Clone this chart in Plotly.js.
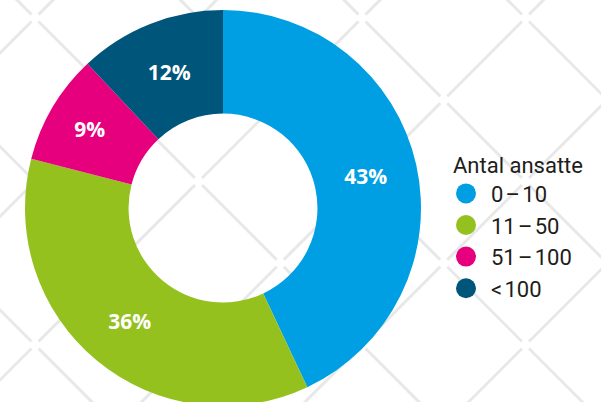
<!DOCTYPE html>
<html><head><meta charset="utf-8">
<script src="https://cdn.plot.ly/plotly-3.0.1.min.js"></script>
<style>html,body{margin:0;padding:0;overflow:hidden;background:#fff}#chart{width:601px;height:420px}</style>
</head><body><div id="chart"></div>
<script>
// ---- data ----
const categories = ['0\u200a\u2013\u200a10', '11\u200a\u2013\u200a50', '51\u200a\u2013\u200a100', '<\u200a100'];
const shares = [43, 36, 9, 12];
const colors = ['#009fe3', '#95c11f', '#e6007e', '#00567a'];
const legendTitle = 'Antal ansatte';

// ---- decorative diamond lattice background (pixel based, converted to paper) ----
const W = 601, H = 420;
const period = 163.5, offA = 53, offB = 17, gap = 5, lineCol = '#e8e8e8';
const shapes = [];
const toX = px => px / W, toY = py => 1 - py / H;
const As = [], Bs = [];
for (let k = -2; k <= 8; k++) { As.push(offA + k * period); }
for (let k = -4; k <= 5; k++) { Bs.push(offB + k * period); }
const d = gap / Math.SQRT2;
As.forEach(cA => {
  for (let i = 0; i < Bs.length - 1; i++) {
    const x1 = (cA + Bs[i]) / 2, y1 = (cA - Bs[i]) / 2;
    const x2 = (cA + Bs[i + 1]) / 2, y2 = (cA - Bs[i + 1]) / 2;
    shapes.push({type: 'line', xref: 'paper', yref: 'paper', layer: 'below',
      x0: toX(x1 + d), y0: toY(y1 - d), x1: toX(x2 - d), y1: toY(y2 + d),
      line: {color: lineCol, width: 3}});
  }
});
Bs.forEach(cB => {
  for (let i = 0; i < As.length - 1; i++) {
    const x1 = (As[i] + cB) / 2, y1 = (As[i] - cB) / 2;
    const x2 = (As[i + 1] + cB) / 2, y2 = (As[i + 1] - cB) / 2;
    shapes.push({type: 'line', xref: 'paper', yref: 'paper', layer: 'below',
      x0: toX(x1 + d), y0: toY(y1 + d), x1: toX(x2 - d), y1: toY(y2 - d),
      line: {color: lineCol, width: 3}});
  }
});

const pie = {
  type: 'pie', values: shares, labels: categories, sort: false,
  direction: 'clockwise', rotation: 0, hole: 0.477,
  marker: {colors: colors, line: {width: 0}},
  textinfo: 'percent', textposition: 'inside', insidetextorientation: 'horizontal',
  textfont: {family: 'Open Sans, sans-serif', size: 21, color: '#ffffff', weight: 'bold'},
  domain: {x: [25 / W, 421 / W], y: [1 - 406 / H, 1 - 10 / H]},
  showlegend: false, hoverinfo: 'none'
};
const legendTraces = categories.map((c, i) => ({
  type: 'scatter', mode: 'markers', x: [null], y: [null], name: c,
  legendgroup: 'g' + i,
  marker: {color: colors[i], size: 16, symbol: 'circle'}, hoverinfo: 'none'
}));

const legendFont = {family: 'Roboto, sans-serif', size: 22, color: '#1d1d1b'};
const layout = {
  width: W, height: H, margin: {l: 0, r: 0, t: 0, b: 0},
  paper_bgcolor: '#ffffff', plot_bgcolor: 'rgba(0,0,0,0)',
  xaxis: {visible: false}, yaxis: {visible: false},
  showlegend: true,
  legend: {
    x: 451 / W, xanchor: 'left', y: 1 - 144 / H, yanchor: 'top',
    bgcolor: 'rgba(0,0,0,0)', traceorder: 'grouped', tracegroupgap: 0,
    title: {text: legendTitle, font: legendFont},
    font: legendFont,
    itemclick: false, itemdoubleclick: false
  },
  shapes: shapes
};
Plotly.newPlot('chart', [pie].concat(legendTraces), layout, {displayModeBar: false, staticPlot: true})
  .then(gd => {
    // enlarge legend dots and nudge them left to match the reference spacing
    gd.querySelectorAll('.legendpoints path.scatterpts').forEach(p => {
      p.setAttribute('d', 'M5,0A10,10 0 1,1 -15,0A10,10 0 1,1 5,0Z');
    });
  });
</script></body></html>
